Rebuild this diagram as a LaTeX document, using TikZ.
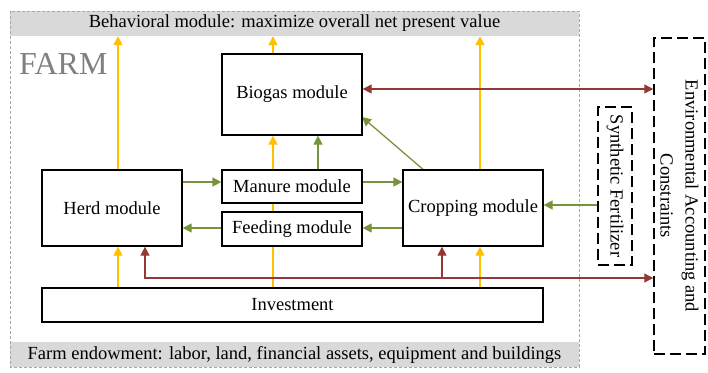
\documentclass[tikz,border=0pt]{standalone}
\usepackage{fontspec}
\setmainfont{Liberation Serif}
\usetikzlibrary{arrows.meta}
\definecolor{ylw}{HTML}{FFC000}
\definecolor{grn}{HTML}{77933C}
\definecolor{rd}{HTML}{953735}
\definecolor{bandgray}{HTML}{D9D9D9}
\definecolor{framegray}{HTML}{A6A6A6}
\definecolor{farmgray}{HTML}{808080}
\pgfdeclarelayer{bg}
\pgfdeclarelayer{links}
\pgfsetlayers{bg,links,main}
\begin{document}
\begin{tikzpicture}[x=1pt,y=-1pt,
  txt/.style={font=\fontsize{18.5}{22}\selectfont},
  module/.style={txt, draw=black, line width=1.3pt, fill=white, inner sep=0pt},
  extbox/.style={txt, draw=black, line width=1.5pt, dash pattern=on 11pt off 5pt, inner sep=0pt},
  band/.style={txt, fill=bandgray, inner sep=0pt, minimum width=569pt, minimum height=25pt},
  link/.style={line width=1.3pt, -{Triangle[length=9pt,width=9pt]}},
  both/.style={line width=1.2pt, {Triangle[length=9pt,width=9pt]}-{Triangle[length=9pt,width=9pt]}},
  yl/.style={link, draw=ylw},
  gl/.style={link, draw=grn},
  rl/.style={draw=rd}]
\useasboundingbox (0,0) rectangle (708,372);

% farm frame and its two bands
\begin{pgfonlayer}{bg}
  \node[band] (behav) at (294.5,23.5) {Behavioral module: maximize overall net present value};
  \node[band] (endow) at (294.5,354.5) {Farm endowment: labor, land, financial assets, equipment and buildings};
  \draw[framegray, line width=1pt, dash pattern=on 3pt off 2pt] (10,11) rectangle (579,367);
  \node[farmgray, anchor=base west, inner sep=0pt, font=\fontsize{32}{36}\selectfont] (farm) at (19,74) {FARM};
\end{pgfonlayer}

% modules
\node[module, minimum width=140pt, minimum height=81pt] (biogas) at (292,94.5) {Biogas module};
\node[module, minimum width=140pt, minimum height=76pt] (herd) at (112,208) {Herd module};
\node[module, minimum width=140pt, minimum height=33pt] (manure) at (292,186.5) {Manure module};
\node[module, minimum width=140pt, minimum height=34pt] (feeding) at (292,229) {Feeding module};
\node[module, minimum width=140pt, minimum height=76pt] (crop) at (473,208) {Cropping module};
\node[module, minimum width=501pt, minimum height=34pt] (invest) at (292.5,305) {Investment};

% outside the farm
\node[extbox, minimum width=34pt, minimum height=158pt] (synth) at (615,186) {};
\node[txt, rotate=-90] (synthlbl) at (synth.center) {Synthetic Fertilizer};
\node[extbox, minimum width=51pt, minimum height=316pt] (env) at (679.5,196) {};
\node[txt, rotate=-90, align=center, font=\fontsize{18.5}{25}\selectfont] (envlbl) at (env.center) {Environmental Accounting and\\Constraints};

% column and row guides
\coordinate (xA) at (118,0);
\coordinate (xB) at (145,0);
\coordinate (xC) at (273,0);
\coordinate (xD) at (318,0);
\coordinate (xE) at (423,0);
\coordinate (xF) at (442,0);
\coordinate (xG) at (480,0);
\coordinate (yA) at (0,89);
\coordinate (yB) at (0,182);
\coordinate (yC) at (0,205);
\coordinate (yD) at (0,228);
\coordinate (yE) at (0,278);
\coordinate (bgc) at (362,117);

\begin{pgfonlayer}{links}
  % value flows (yellow)
  \draw[yl] (herd.north -| xA) -- (behav.south -| xA);
  \draw[yl] (biogas.north -| xC) -- (behav.south -| xC);
  \draw[yl] (crop.north -| xG) -- (behav.south -| xG);
  \draw[yl] (invest.north -| xC) -- (biogas.south -| xC);
  \draw[yl] (invest.north -| xA) -- (herd.south -| xA);
  \draw[yl] (invest.north -| xG) -- (crop.south -| xG);
  % material flows (green)
  \draw[gl] (herd.east |- yB) -- (manure.west |- yB);
  \draw[gl] (manure.east |- yB) -- (crop.west |- yB);
  \draw[gl] (feeding.west |- yD) -- (herd.east |- yD);
  \draw[gl] (crop.west |- yD) -- (feeding.east |- yD);
  \draw[gl] (manure.north -| xD) -- (biogas.south -| xD);
  \draw[gl] (crop.north -| xE) -- (bgc);
  \draw[gl] (synth.west |- yC) -- (crop.east |- yC);
  % accounting flows (red)
  \draw[both, rl] (biogas.east |- yA) -- (env.west |- yA);
  \draw[both, rl] (herd.south -| xB) -- (xB |- yE) -- (env.west |- yE);
  \draw[link, line width=1.2pt, rl] (xF |- yE) -- (crop.south -| xF);
\end{pgfonlayer}
\end{tikzpicture}
\end{document}
